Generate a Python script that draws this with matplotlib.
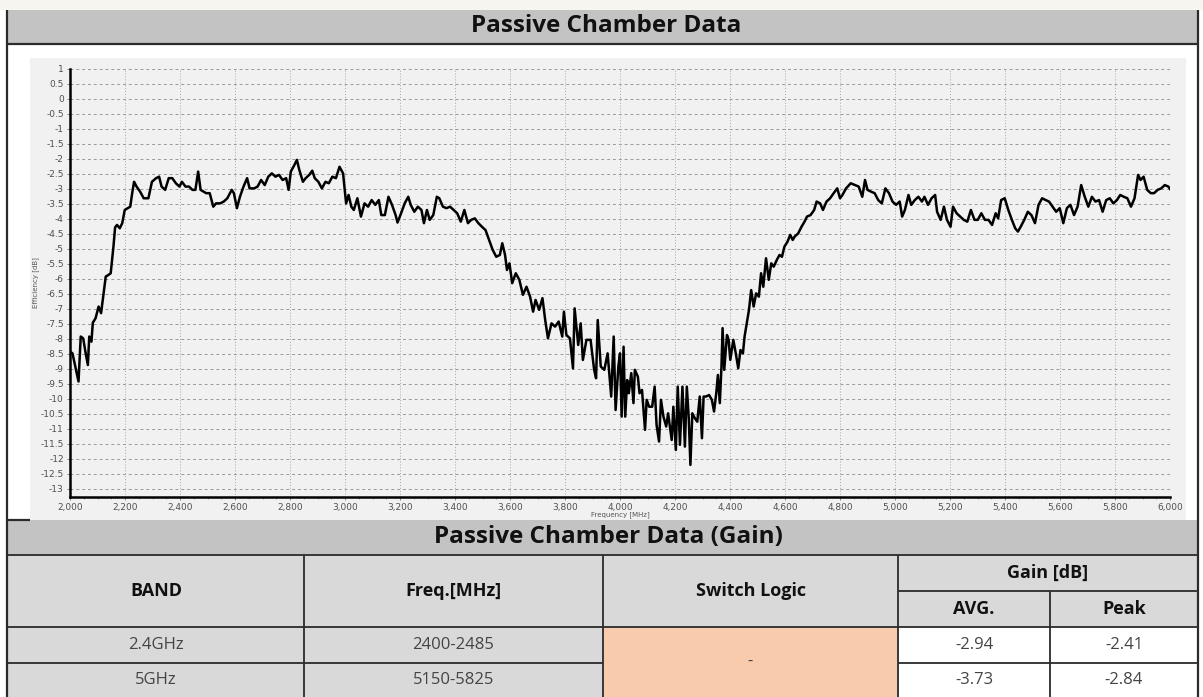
import matplotlib.pyplot as plt
from matplotlib.patches import Rectangle
from matplotlib.ticker import MultipleLocator, FuncFormatter

plt.rcParams['axes.unicode_minus'] = False

# measured efficiency trace (MHz, dB)
freq_mhz = [
    2000, 2009, 2022, 2031, 2039, 2048, 2057, 2065, 2070, 2078, 2083, 2093, 2104, 2113, 2119,
    2130, 2139, 2148, 2158, 2164, 2171, 2181, 2190, 2199, 2210, 2219, 2227, 2233, 2242, 2255,
    2268, 2285, 2298, 2313, 2324, 2333, 2346, 2359, 2372, 2385, 2398, 2407, 2420, 2433, 2445,
    2456, 2466, 2475, 2495, 2508, 2521, 2531, 2546, 2559, 2572, 2588, 2596, 2607, 2618, 2631,
    2644, 2653, 2670, 2682, 2695, 2708, 2721, 2734, 2747, 2760, 2773, 2786, 2795, 2803, 2816,
    2825, 2834, 2847, 2857, 2870, 2881, 2890, 2903, 2916, 2929, 2941, 2954, 2967, 2980, 2993,
    3004, 3013, 3023, 3032, 3045, 3058, 3071, 3084, 3097, 3110, 3123, 3132, 3145, 3158, 3171,
    3184, 3191, 3204, 3217, 3230, 3239, 3252, 3265, 3278, 3287, 3298, 3308, 3321, 3334, 3343,
    3356, 3369, 3382, 3395, 3408, 3421, 3434, 3447, 3459, 3472, 3485, 3498, 3511, 3524, 3537,
    3550, 3563, 3572, 3582, 3589, 3598, 3608, 3621, 3634, 3647, 3660, 3673, 3684, 3693, 3706,
    3718, 3728, 3738, 3751, 3764, 3777, 3790, 3796, 3805, 3818, 3829, 3835, 3848, 3857, 3865,
    3878, 3893, 3906, 3913, 3919, 3930, 3943, 3955, 3968, 3977, 3984, 3994,
    4000, 4006, 4013, 4019, 4026, 4032, 4041, 4049, 4054, 4065, 4071, 4080, 4091, 4097, 4106,
    4117, 4126, 4133, 4142, 4149, 4158, 4168, 4175, 4188, 4194, 4203, 4210, 4218, 4227, 4236,
    4243, 4250, 4256, 4263, 4272, 4281, 4290, 4298, 4304, 4313, 4324, 4334, 4342, 4350, 4356,
    4363, 4369, 4373, 4379, 4389, 4395, 4401, 4412, 4421, 4430, 4438, 4447, 4453, 4460, 4469,
    4477, 4486, 4495, 4505, 4513, 4521, 4531, 4541, 4550, 4559, 4570, 4580, 4589, 4598, 4609,
    4619, 4628, 4635, 4648, 4660, 4671, 4680, 4693, 4706, 4715, 4728, 4738, 4751, 4764, 4777,
    4790, 4800, 4809, 4822, 4839, 4855, 4868, 4881, 4891, 4900, 4913, 4926, 4939, 4952, 4965,
    4978, 4991, 5004, 5017, 5026, 5036, 5049, 5059, 5072, 5085, 5098, 5107, 5120, 5133, 5146,
    5153, 5166, 5178, 5189, 5202, 5211, 5224, 5237, 5250, 5263, 5276, 5289, 5301, 5314, 5327,
    5340, 5353, 5366, 5375, 5386, 5399, 5412, 5425, 5437, 5447, 5457, 5470, 5483, 5496, 5509,
    5522, 5535, 5548, 5560, 5573, 5586, 5599, 5612, 5625, 5638, 5651, 5664, 5677, 5690, 5703,
    5716, 5729, 5742, 5755, 5768, 5781, 5794, 5807, 5819, 5832, 5845, 5858, 5871, 5884, 5893,
    5904, 5917, 5930, 5942, 5955, 5968, 5981, 5994, 6000,
]
efficiency_db = [
    -8.42, -8.48, -9.03, -9.42, -7.92, -7.98, -8.48, -8.87, -7.92, -8.09, -7.46, -7.31, -6.92, -7.14, -6.70,
    -5.92, -5.87, -5.81, -4.92, -4.28, -4.20, -4.31, -4.14, -3.70, -3.64, -3.59, -3.09, -2.76, -2.92, -3.09,
    -3.31, -3.31, -2.76, -2.64, -2.59, -2.92, -3.03, -2.64, -2.64, -2.81, -2.92, -2.76, -2.92, -2.92, -3.03,
    -3.03, -2.42, -3.03, -3.14, -3.14, -3.59, -3.48, -3.48, -3.42, -3.31, -3.03, -3.14, -3.64, -3.26, -2.92,
    -2.64, -2.98, -2.98, -2.92, -2.70, -2.87, -2.59, -2.48, -2.59, -2.53, -2.70, -2.64, -3.03, -2.42, -2.20,
    -2.03, -2.37, -2.76, -2.64, -2.53, -2.39, -2.64, -2.76, -2.98, -2.76, -2.81, -2.59, -2.64, -2.26, -2.48,
    -3.48, -3.20, -3.59, -3.70, -3.31, -3.92, -3.48, -3.59, -3.37, -3.53, -3.37, -3.87, -3.87, -3.26, -3.53,
    -3.87, -4.12, -3.81, -3.48, -3.26, -3.53, -3.76, -3.59, -3.70, -4.14, -3.70, -4.03, -3.87, -3.26, -3.31,
    -3.59, -3.64, -3.59, -3.70, -3.81, -4.09, -3.70, -4.14, -4.03, -3.98, -4.14, -4.26, -4.37, -4.70, -5.03,
    -5.26, -5.20, -4.81, -5.20, -5.70, -5.48, -6.14, -5.81, -6.03, -6.53, -6.26, -6.59, -7.09, -6.70, -7.03,
    -6.64, -7.37, -7.98, -7.48, -7.59, -7.42, -7.92, -7.09, -7.87, -7.98, -8.98, -6.98, -8.20, -7.48, -8.70,
    -8.03, -8.03, -9.03, -9.31, -7.37, -8.92, -9.03, -8.48, -9.92, -7.92, -10.37, -8.92,
    -8.48, -10.59, -8.26, -10.59, -9.37, -9.81, -9.14, -10.14, -9.03, -9.26, -9.81, -9.70, -11.03, -10.03, -10.26,
    -10.26, -9.59, -10.87, -11.42, -10.03, -10.59, -10.92, -10.48, -11.37, -10.26, -11.70, -9.59, -11.53, -9.59, -11.59,
    -9.59, -10.64, -12.20, -10.48, -10.64, -10.76, -9.92, -11.31, -9.92, -9.92, -9.87, -10.03, -10.42, -9.81, -9.20,
    -10.14, -8.92, -7.64, -9.03, -7.87, -8.03, -8.70, -8.03, -8.48, -8.98, -8.37, -8.48, -7.92, -7.53, -7.03,
    -6.37, -6.92, -6.48, -6.59, -5.81, -6.26, -5.31, -6.03, -5.48, -5.59, -5.37, -5.20, -5.26, -4.92, -4.76,
    -4.53, -4.70, -4.59, -4.48, -4.26, -4.09, -3.92, -3.87, -3.70, -3.42, -3.48, -3.70, -3.42, -3.31, -3.14,
    -2.98, -3.31, -3.20, -2.98, -2.81, -2.87, -2.92, -3.26, -2.70, -3.03, -3.09, -3.14, -3.37, -3.48, -2.98,
    -3.14, -3.42, -3.53, -3.42, -3.92, -3.70, -3.20, -3.53, -3.37, -3.26, -3.42, -3.26, -3.53, -3.31, -3.20,
    -3.76, -4.03, -3.59, -4.03, -4.26, -3.59, -3.81, -3.92, -4.03, -4.09, -3.70, -4.03, -4.03, -3.81, -4.03,
    -4.03, -4.20, -3.81, -3.98, -3.37, -3.31, -3.70, -4.03, -4.31, -4.42, -4.26, -4.03, -3.76, -3.87, -4.14,
    -3.53, -3.31, -3.37, -3.42, -3.59, -3.76, -3.64, -4.14, -3.64, -3.53, -3.87, -3.59, -2.87, -3.26, -3.59,
    -3.26, -3.42, -3.37, -3.76, -3.37, -3.31, -3.48, -3.37, -3.20, -3.26, -3.31, -3.59, -3.31, -2.53, -2.70,
    -2.59, -3.03, -3.14, -3.14, -3.03, -2.98, -2.87, -2.92, -3.00,
]

# gain summary table
bands = ["2.4GHz", "5GHz"]
band_freqs = ["2400-2485", "5150-5825"]
switch_logic = "-"
gain_avg = [-2.94, -3.73]
gain_peak = [-2.41, -2.84]

W, H = 1203, 697
fig = plt.figure(figsize=(W / 100, H / 100), dpi=100)

# page background drawn in pixel coordinates
bg = fig.add_axes([0, 0, 1, 1])
bg.set_xlim(0, W)
bg.set_ylim(H, 0)
bg.axis('off')

HEAD_FONT = ['Open Sans', 'DejaVu Sans']
LINE = '#2b2b2b'


def box(x0, y0, x1, y1, color):
    bg.add_patch(Rectangle((x0, y0), x1 - x0, y1 - y0, facecolor=color, edgecolor='none'))


def hline(y, x0, x1, lw=1.3):
    bg.plot([x0, x1], [y, y], color=LINE, lw=lw, solid_capstyle='butt')


def vline(x, y0, y1, lw=1.3):
    bg.plot([x, x], [y0, y1], color=LINE, lw=lw, solid_capstyle='butt')


def label(x, y, s, bold=False, size=12, color='#111111'):
    bg.text(x, y, s, ha='center', va='center', fontsize=size, color=color,
            fontweight='bold' if bold else 'normal', family=HEAD_FONT)


box(0, 0, W, 10, '#f6f5f0')
box(8, 10, 1198, 44, '#c3c3c3')
box(8, 44, 1198, 520, '#ffffff')
box(30, 58, 1186, 520, '#f1f1f1')
box(8, 520, 1198, 555, '#c3c3c3')

# column / row edges of the gain table
cols = [8, 304, 603, 898, 1050, 1198]
rows = [555, 591, 627, 663, 697]
box(8, 555, 898, 697, '#d9d9d9')
box(898, 555, 1198, 627, '#d9d9d9')
box(603, 627, 898, 697, '#f8cbad')
box(898, 627, 1198, 697, '#ffffff')

vline(7, 10, 697, lw=1.6)
vline(1198, 10, 697, lw=1.6)
hline(44, 7, 1198, lw=1.6)
hline(520, 7, 30, lw=1.6)
hline(555, 7, 1198)
hline(rows[1], cols[3], cols[5])
hline(rows[2], 7, 1198)
# switch logic cell spans both data rows
hline(rows[3], 7, cols[2])
hline(rows[3], cols[3], 1198)
for x in cols[1:4]:
    vline(x, 555, 697)
vline(cols[4], rows[1], 697)

label(606, 26, "Passive Chamber Data", bold=True, size=17.5)
label(608, 537, "Passive Chamber Data (Gain)", bold=True, size=17.5)

mid = [(cols[i] + cols[i + 1]) / 2 for i in range(5)]
label(mid[0], 591, "BAND", bold=True, size=13)
label(mid[1], 591, "Freq.[MHz]", bold=True, size=13)
label(mid[2], 591, "Switch Logic", bold=True, size=13)
label((cols[3] + cols[5]) / 2, 573, "Gain [dB]", bold=True, size=13)
label(mid[3], 609, "AVG.", bold=True, size=13)
label(mid[4], 609, "Peak", bold=True, size=13)
label(mid[2], 662, switch_logic, color='#444444')
for i in range(len(bands)):
    yc = (rows[2 + i] + rows[3 + i]) / 2
    label(mid[0], yc, bands[i], color='#444444')
    label(mid[1], yc, band_freqs[i], color='#444444')
    label(mid[3], yc, f"{gain_avg[i]:.2f}", color='#444444')
    label(mid[4], yc, f"{gain_peak[i]:.2f}", color='#444444')

# efficiency chart
ax = fig.add_axes([70 / W, 1 - 497 / H, 1100 / W, 428 / H])
ax.set_facecolor('#f1f1f1')
ax.plot(freq_mhz, efficiency_db, color='black', lw=1.8)
ax.set_xlim(2000, 6000)
ax.set_ylim(-13.27, 1)

ax.xaxis.set_major_locator(MultipleLocator(200))
ax.xaxis.set_minor_locator(MultipleLocator(50))
ax.yaxis.set_major_locator(MultipleLocator(0.5))
ax.xaxis.set_major_formatter(FuncFormatter(lambda v, p: f"{int(v):,}"))
ax.yaxis.set_major_formatter(FuncFormatter(lambda v, p: f"{v:g}"))
ax.tick_params(axis='both', labelsize=6.5, labelcolor='#505050', color='#777777',
               length=2.5, width=0.6, pad=2)
ax.tick_params(axis='x', which='minor', length=1.5, width=0.5, color='#888888')

ax.grid(axis='y', color='#9a9a9a', lw=0.7, linestyle=(0, (3, 3)))
ax.grid(axis='x', color='#a5a5a5', lw=0.7, linestyle=(0, (1, 2)))
ax.axvline(6000, color='#a5a5a5', lw=0.7, linestyle=(0, (1, 2)))

for side in ('top', 'right'):
    ax.spines[side].set_visible(False)
ax.spines['left'].set_linewidth(1.8)
ax.spines['bottom'].set_linewidth(1.8)

ax.set_xlabel("Frequency [MHz]", fontsize=5, color='#555555', labelpad=-1)
ax.set_ylabel("Efficiency [dB]", fontsize=5, color='#555555', labelpad=1)

fig.savefig("out.png", dpi=100)
